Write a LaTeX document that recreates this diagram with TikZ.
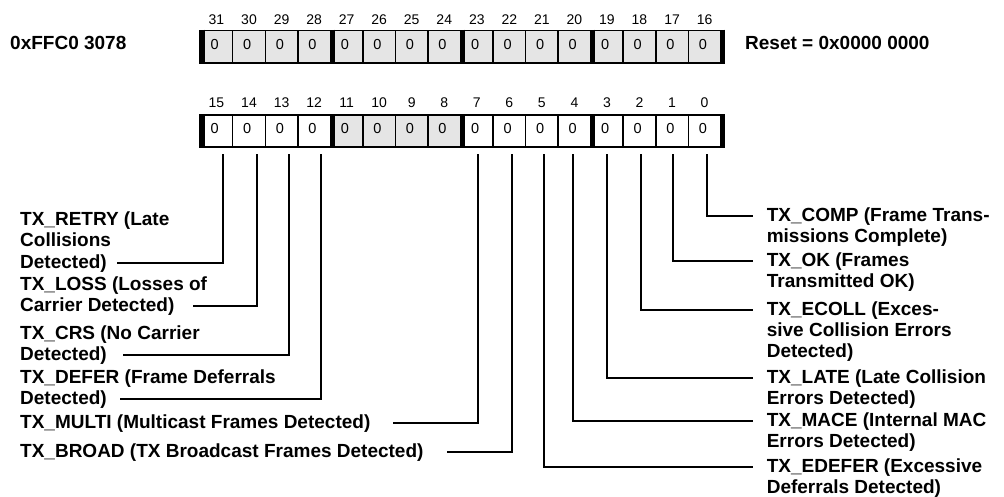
\documentclass[tikz,border=0pt]{standalone}
\usepackage{fontspec}
\setmainfont{Liberation Sans}
\usepackage{xcolor}
\usepackage{tikz}
\usetikzlibrary{positioning}

\definecolor{regshade}{gray}{0.9}

\begin{document}
\begin{tikzpicture}[
    x=1pt, y=-1pt,
    cell/.style={rectangle, draw, line width=1.5pt, text width=11.54pt, align=left, inner xsep=10.5pt, inner ysep=0pt, outer sep=0pt, minimum height=32.3pt, text height=10.5pt, text depth=5pt, font=\fontsize{14.5}{16}\selectfont},
    bitnum/.style={inner sep=0pt, font=\fontsize{14}{16}\selectfont},
    title/.style={inner sep=0pt, anchor=base west, font=\fontsize{19}{21.2}\selectfont\bfseries},
    field/.style={inner sep=0pt, align=left, font=\fontsize{19}{21.2}\selectfont\bfseries},
    nibble/.style={line width=4.5pt, shorten <=-0.8pt, shorten >=-0.8pt},
    leader/.style={line width=1.7pt}
]
\useasboundingbox (0,0) rectangle (1004,497);

% Register bits
\foreach \b in {31,...,16} {
  \node[cell, fill=regshade] (c\b) at ({200.2+(31-\b+0.5)*32.54}, 46.65) {0};
  \node[bitnum, above=5.5pt of c\b] (n\b) {\b};
}
\foreach \b in {15,...,0} {
  \ifnum\b<12 \ifnum\b>7 \def\f{regshade}\else\def\f{white}\fi \else\def\f{white}\fi
  \node[cell, fill=\f] (c\b) at ({200.2+(15-\b+0.5)*32.54}, 131.1) {0};
  \node[bitnum, above=7pt of c\b] (n\b) {\b};
}
\foreach \b in {31,27,23,19,15,11,7,3}
  \draw[nibble] ([xshift=2.2pt]c\b.north west) -- ([xshift=2.2pt]c\b.south west);
\foreach \b in {16,0}
  \draw[nibble] ([xshift=2.2pt]c\b.north east) -- ([xshift=2.2pt]c\b.south east);

\node[title] (addr) at (10, 49.5) {0xFFC0 3078};
\node[title] (reset) at (745, 49.5) {Reset = 0x0000 0000};

% Fields
\node[field, anchor=south west] (retry) at (20, 272.2) {TX\_RETRY (Late\\Collisions\\Detected)};
\node[field, anchor=south west] (loss) at (20, 315.5) {TX\_LOSS (Losses of\\Carrier Detected)};
\node[field, anchor=south west] (crs) at (20, 364.5) {TX\_CRS (No Carrier\\Detected)};
\node[field, anchor=south west] (defer) at (20, 408.5) {TX\_DEFER (Frame Deferrals\\Detected)};
\node[field, anchor=south west] (multi) at (20, 432.5) {TX\_MULTI (Multicast Frames Detected)};
\node[field, anchor=south west] (broad) at (20, 461.5) {TX\_BROAD (TX Broadcast Frames Detected)};

\node[field, anchor=north west] (comp) at (766.6, 207.6) {TX\_COMP (Frame Trans-\\missions Complete)};
\node[field, anchor=north west] (ok) at (766.6, 252.6) {TX\_OK (Frames\\Transmitted OK)};
\node[field, anchor=north west] (ecoll) at (766.6, 301.6) {TX\_ECOLL (Exces-\\sive Collision Errors\\Detected)};
\node[field, anchor=north west] (late) at (766.6, 369.6) {TX\_LATE (Late Collision\\Errors Detected)};
\node[field, anchor=north west] (mace) at (766.6, 412.6) {TX\_MACE (Internal MAC\\Errors Detected)};
\node[field, anchor=north west] (edefer) at (766.6, 458.6) {TX\_EDEFER (Excessive\\Deferrals Detected)};

% Leader ends
\coordinate (retryend) at (117, 262.7);
\coordinate (lossend) at (193, 306);
\coordinate (crsend) at (123, 355);
\coordinate (deferend) at (120, 399);
\coordinate (multiend) at (393, 423);
\coordinate (broadend) at (447, 452);
\coordinate (compend) at (753, 216);
\coordinate (okend) at (753, 261);
\coordinate (ecollend) at (753, 310);
\coordinate (lateend) at (753, 378);
\coordinate (maceend) at (753, 421);
\coordinate (edeferend) at (753, 467);

% Leaders
\draw[leader] ([shift={(6.5,7)}]c15.south) |- (retryend);
\draw[leader] ([shift={(8,7)}]c14.south) |- (lossend);
\draw[leader] ([shift={(7.4,7)}]c13.south) |- (crsend);
\draw[leader] ([shift={(6.9,7)}]c12.south) |- (deferend);
\draw[leader] ([shift={(1.2,7)}]c7.south) |- (multiend);
\draw[leader] ([shift={(2.6,7)}]c6.south) |- (broadend);
\draw[leader] ([shift={(2.1,7)}]c5.south) |- (edeferend);
\draw[leader] ([shift={(-1.5,7)}]c4.south) |- (maceend);
\draw[leader] ([shift={(0,7)}]c3.south) |- (lateend);
\draw[leader] ([shift={(1.4,7)}]c2.south) |- (ecollend);
\draw[leader] ([shift={(0.9,7)}]c1.south) |- (okend);
\draw[leader] ([shift={(2.3,7)}]c0.south) |- (compend);

\end{tikzpicture}
\end{document}
